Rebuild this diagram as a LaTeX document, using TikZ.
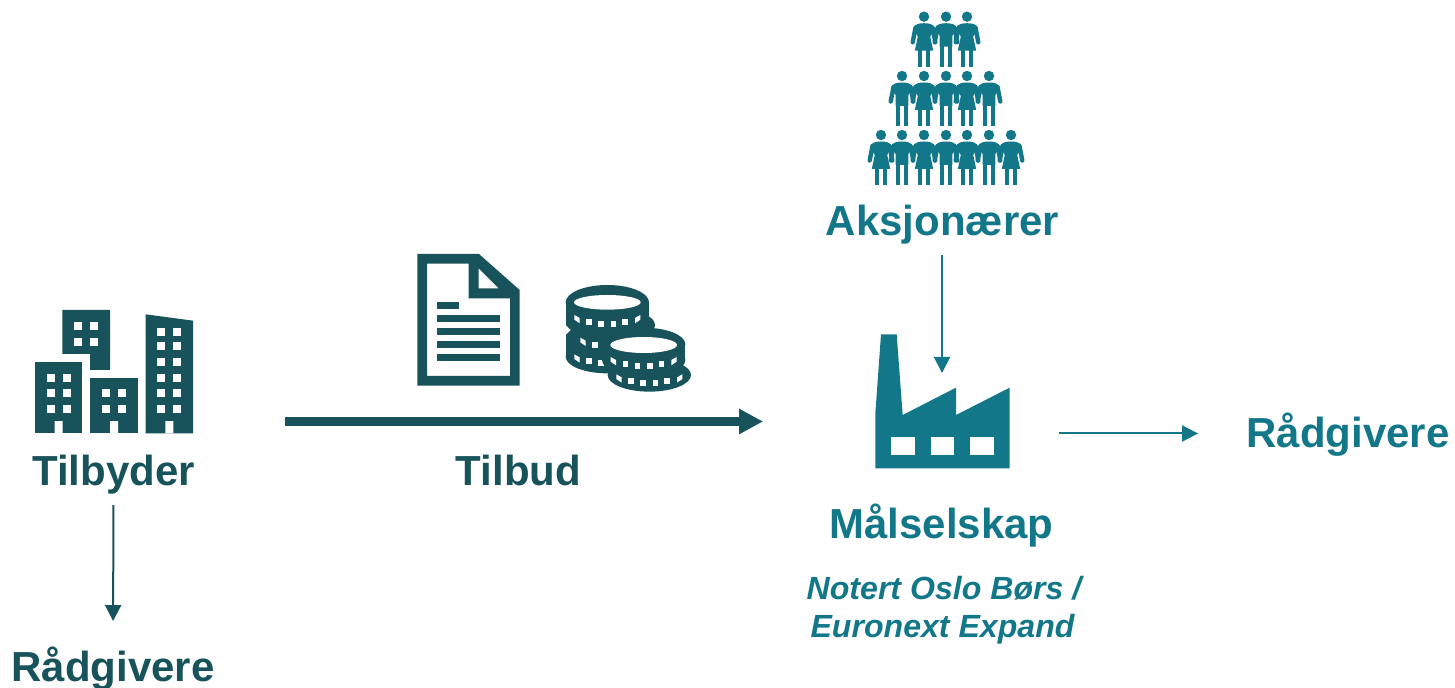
\documentclass[tikz,border=0pt]{standalone}
\usepackage{fontspec}
\setmainfont{Liberation Sans}
\usetikzlibrary{arrows.meta}
\definecolor{darkteal}{HTML}{18535B}
\definecolor{teal}{HTML}{127889}
\tikzset{
  lab/.style={inner sep=0pt,anchor=base,font=\fontsize{21}{21}\selectfont\bfseries},
  note/.style={inner sep=0pt,anchor=base,text=teal,font=\fontsize{16.05}{16.05}\selectfont\bfseries\itshape},
  thinarrow/.style={line width=1pt,-{Triangle[length=8pt,width=8pt]}},
  mainarrow/.style={line width=4.5pt,darkteal,-{Triangle[length=12pt,width=12pt]}},
}
% person at pixel position: #1 = x of centre, #2 = y of head centre
\newcommand{\pbase}[2]{%
  \fill (#1,#2) circle (5.2);
  \fill ({#1-6.2},{#2+26}) rectangle ({#1-2.2},{#2+50});
  \fill ({#1+2.2},{#2+26}) rectangle ({#1+6.2},{#2+50});
  \draw[line width=2.2pt,line cap=round,line join=round] ({#1-8.5},{#2+11}) -- ({#1-11.3},{#2+25.5});
  \draw[line width=2.2pt,line cap=round,line join=round] ({#1+8.5},{#2+11}) -- ({#1+11.3},{#2+25.5});
}
\newcommand{\pman}[2]{\pbase{#1}{#2}%
  \fill ({#1-6.4},{#2+30}) -- ({#1-6.4},{#2+19}) -- ({#1-11},{#2+12}) .. controls ({#1-10},{#2+7.5}) and ({#1-5},{#2+6.5}) .. ({#1},{#2+6.5}) .. controls ({#1+5},{#2+6.5}) and ({#1+10},{#2+7.5}) .. ({#1+11},{#2+12}) -- ({#1+6.4},{#2+19}) -- ({#1+6.4},{#2+30}) -- cycle;
}
\newcommand{\pwoman}[2]{\pbase{#1}{#2}%
  \fill ({#1-9.2},{#2+34}) -- ({#1-6.2},{#2+20}) -- ({#1-11},{#2+12}) .. controls ({#1-10},{#2+7.5}) and ({#1-5},{#2+6.5}) .. ({#1},{#2+6.5}) .. controls ({#1+5},{#2+6.5}) and ({#1+10},{#2+7.5}) .. ({#1+11},{#2+12}) -- ({#1+6.2},{#2+20}) -- ({#1+9.2},{#2+34}) -- cycle;
}
% coin ticks relative to coin reference point
\newcommand{\cointicks}[2]{%
  \fill[white] ({#1-99},{#2+38}) -- ({#1-83},{#2+47}) -- ({#1-83},{#2+63}) -- ({#1-99},{#2+52}) -- cycle;
  \fill[white] ({#1+99},{#2+38}) -- ({#1+83},{#2+47}) -- ({#1+83},{#2+63}) -- ({#1+99},{#2+52}) -- cycle;
  \foreach \dx/\dy in {-63.5/50,-27/55,9.5/55,45/50}{
    \fill[white] ({#1+\dx},{#2+\dy}) rectangle ++(17,18);
  }
}
\begin{document}
\begin{tikzpicture}[x=0.5pt,y=-0.5pt]
\useasboundingbox (0,0) rectangle (1455,688);

% people
\begin{scope}[fill=teal,draw=teal]
  \foreach \x in {924,967} {\pwoman{\x}{16.7}}
  \pman{946}{16.7}
  \foreach \x in {902,946,989} {\pman{\x}{76}}
  \foreach \x in {924,967} {\pwoman{\x}{76}}
  \foreach \x in {881,924,967,1011} {\pwoman{\x}{135}}
  \foreach \x in {902,946,989} {\pman{\x}{135}}
\end{scope}

% buildings
\begin{scope}[shift={(20,300)},x=0.16667pt,y=-0.16667pt]
  \fill[darkteal] (127,30) -- (270,30) -- (270,210) -- (210,210) -- (210,162) -- (127,162) -- cycle;
  \fill[darkteal] (45,186) rectangle (187,400);
  \fill[darkteal] (211,233) rectangle (353,400);
  \fill[darkteal] (377,43) -- (519,62) -- (519,400) -- (377,400) -- cycle;
  \fill[white] (104,363) rectangle (128,400) (270,363) rectangle (294,400) (436,363) rectangle (460,400);
  \foreach \x in {163,211} \foreach \y in {67,115} {\fill[white] (\x,\y) rectangle ++(24,24);}
  \foreach \x in {80,128} \foreach \y in {221,268,316} {\fill[white] (\x,\y) rectangle ++(24,24);}
  \foreach \x in {246,294} \foreach \y in {268,316} {\fill[white] (\x,\y) rectangle ++(24,24);}
  \foreach \x in {412,460} \foreach \y in {85,126,174,221,268,316} {\fill[white] (\x,\y) rectangle ++(24,24);}
\end{scope}

% document
\begin{scope}[shift={(405,245)},x=0.16667pt,y=-0.16667pt]
  \fill[darkteal,even odd rule] (37,27) -- (222,27) -- (344,135) -- (344,422) -- (37,422) -- cycle
    (66,56) -- (191,56) -- (191,160) -- (315,160) -- (315,393) -- (66,393) -- cycle
    (221,70) -- (281,130) -- (221,130) -- cycle;
  \fill[darkteal] (96,171) rectangle (162,191);
  \foreach \y in {210,249,288,327} {\fill[darkteal] (96,\y) rectangle (285,\y+20);}
\end{scope}

% coins
\begin{scope}[shift={(405,245)},x=0.16667pt,y=-0.16667pt]
  \fill[darkteal] (607,172) ellipse[x radius=125,y radius=52];
  \fill[darkteal] (482,172) rectangle (732,335);
  \fill[darkteal] (607,335) ellipse[x radius=125,y radius=50];
  \fill[darkteal] (625,240) ellipse[x radius=125,y radius=50];
  \fill[white] (476,234) -- (497,255) -- (476,276) -- cycle;
  \fill[white] (607,172) ellipse[x radius=100,y radius=22];
  \cointicks{607}{172}
  \cointicks{625}{240}
  \cointicks{607}{290}
  \fill[darkteal] (716,298) ellipse[x radius=125,y radius=50];
  \fill[darkteal] (591,298) rectangle (841,345);
  \fill[darkteal] (716,345) ellipse[x radius=125,y radius=50];
  \fill[darkteal] (733,390) ellipse[x radius=125,y radius=50];
  \fill[white] (716,300) ellipse[x radius=100,y radius=24];
  \cointicks{716}{298}
  \cointicks{733}{350}
\end{scope}

% factory
\begin{scope}[shift={(860,320)},x=0.16667pt,y=-0.16667pt]
  \fill[teal] (63,43) -- (110,43) -- (128,285) -- (288,203) -- (288,285) -- (449,203) -- (449,445) -- (46,445) -- (46,280) -- cycle;
  \foreach \x in {93,212,330} {\fill[white] (\x,351) rectangle (\x+71,405);}
\end{scope}

% labels
\node[lab,text=darkteal] (tilbyder) at (113.5,486) {Tilbyder};
\node[lab,text=darkteal] (tilbud) at (518.5,486) {Tilbud};
\node[lab,text=teal] (aksjonaerer) at (942.5,236) {Aksjonærer};
\node[lab,text=teal] (malselskap) at (941.5,539) {Målselskap};
\node[lab,text=teal] (radgivereB) at (1348,448) {Rådgivere};
\node[lab,text=darkteal] (radgivereA) at (113,682) {Rådgivere};
\node[note] (notert) at (944,600) {Notert Oslo Børs /};
\node[note] (euronext) at (942.5,638) {Euronext Expand};

% connector ends at the icons
\coordinate (offerfrom) at (285,421.5);
\coordinate (offerto) at (763,421.5);
\coordinate (factoryin) at (942,373);
\coordinate (factoryout) at (1059,433.5);

% connectors
\draw[mainarrow] (offerfrom) -- (offerto);
\draw[thinarrow,teal,shorten <=5pt] (aksjonaerer.south -| factoryin) -- (factoryin);
\draw[thinarrow,teal,shorten >=24pt] (factoryout) -- (factoryout -| radgivereB.west);
\draw[thinarrow,darkteal,shorten <=5pt,shorten >=13pt] (tilbyder.south) -- (radgivereA.north);
\end{tikzpicture}
\end{document}
